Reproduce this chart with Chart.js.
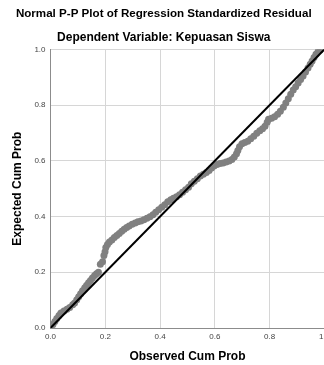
<!DOCTYPE html>
<html>
<head>
<meta charset="utf-8">
<script src="https://cdn.jsdelivr.net/npm/chart.js@4/dist/chart.umd.min.js"></script>
<style>
  html, body { margin: 0; padding: 0; background: #fff; overflow: hidden; }
  #wrap { width: 334px; height: 365px; }
</style>
</head>
<body>
<div id="wrap"><canvas id="pp"></canvas></div>
<script>
const chartTitle = "Normal P-P Plot of Regression Standardized Residual";
const chartSubtitle = "Dependent Variable: Kepuasan Siswa";
const xTitle = "Observed Cum Prob";
const yTitle = "Expected Cum Prob";
const tickValues = [0, 0.2, 0.4, 0.6, 0.8, 1.0];

// observed cumulative probability (x) and expected cumulative probability (y)
const observed = [
  0.002, 0.009, 0.016, 0.023, 0.031, 0.038, 0.049, 0.060, 0.070, 0.081,
  0.088, 0.096, 0.103, 0.110, 0.117, 0.125, 0.132, 0.139, 0.146, 0.153,
  0.161, 0.168, 0.175, 0.182, 0.190, 0.195, 0.199, 0.202, 0.208, 0.215,
  0.224, 0.233, 0.242, 0.251, 0.260, 0.269, 0.278, 0.287, 0.298, 0.309,
  0.319, 0.330, 0.341, 0.352, 0.363, 0.374, 0.384, 0.395, 0.406, 0.417,
  0.428, 0.439, 0.449, 0.460, 0.471, 0.482, 0.493, 0.504, 0.514, 0.525,
  0.536, 0.547, 0.558, 0.569, 0.579, 0.588, 0.597, 0.608, 0.619, 0.630,
  0.641, 0.652, 0.662, 0.671, 0.679, 0.684, 0.690, 0.699, 0.709, 0.720,
  0.731, 0.742, 0.753, 0.764, 0.774, 0.783, 0.791, 0.796, 0.807, 0.818,
  0.829, 0.839, 0.850, 0.859, 0.868, 0.877, 0.886, 0.895, 0.904, 0.913,
  0.922, 0.931, 0.940, 0.948, 0.955, 0.962, 0.969, 0.977, 0.984
];
const expected = [
  0.004, 0.013, 0.023, 0.034, 0.045, 0.054, 0.061, 0.067, 0.074, 0.083,
  0.090, 0.101, 0.112, 0.123, 0.134, 0.144, 0.153, 0.162, 0.170, 0.179,
  0.188, 0.195, 0.200, 0.229, 0.238, 0.260, 0.274, 0.289, 0.300, 0.309,
  0.316, 0.325, 0.332, 0.339, 0.347, 0.354, 0.361, 0.366, 0.372, 0.377,
  0.381, 0.384, 0.388, 0.394, 0.399, 0.406, 0.415, 0.424, 0.433, 0.442,
  0.453, 0.460, 0.466, 0.471, 0.478, 0.487, 0.496, 0.505, 0.518, 0.527,
  0.536, 0.545, 0.552, 0.558, 0.565, 0.574, 0.581, 0.587, 0.590, 0.592,
  0.596, 0.599, 0.605, 0.614, 0.625, 0.637, 0.650, 0.661, 0.666, 0.670,
  0.679, 0.688, 0.699, 0.708, 0.715, 0.724, 0.738, 0.749, 0.753, 0.758,
  0.767, 0.778, 0.792, 0.807, 0.823, 0.839, 0.854, 0.866, 0.879, 0.892,
  0.904, 0.919, 0.933, 0.946, 0.958, 0.971, 0.982, 0.993, 0.998
];
const refLine = [0, 1];

const FONT = "'Liberation Sans', Arial, sans-serif";

const points = observed.map((x, i) => ({ x, y: expected[i] }));

new Chart(document.getElementById("pp").getContext("2d"), {
  type: "scatter",
  data: {
    datasets: [
      {
        type: "line",
        data: refLine.map(v => ({ x: v, y: v })),
        borderColor: "#000",
        borderWidth: 2,
        pointRadius: 0,
        order: 0
      },
      {
        data: points,
        backgroundColor: "#808080",
        borderWidth: 0,
        pointRadius: 3.5,
        pointHoverRadius: 3.5,
        order: 1
      }
    ]
  },
  options: {
    responsive: true,
    maintainAspectRatio: false,
    animation: false,
    events: [],
    layout: { padding: { left: 0, right: 6.5, top: 0, bottom: 1 } },
    plugins: {
      legend: { display: false },
      tooltip: { enabled: false },
      title: {
        display: true,
        text: chartTitle,
        color: "#000",
        font: { family: FONT, size: 11.6, weight: "bold" },
        padding: { top: 7, bottom: 6 }
      },
      subtitle: {
        display: true,
        text: chartSubtitle,
        color: "#000",
        font: { family: FONT, size: 12, weight: "bold" },
        padding: { top: 4, bottom: 4 }
      }
    },
    scales: {
      x: {
        type: "linear",
        min: 0,
        max: 1,
        afterBuildTicks: s => { s.ticks = tickValues.map(v => ({ value: v })); },
        ticks: {
          color: "#444",
          font: { family: FONT, size: 8 },
          padding: 4,
          maxRotation: 0,
          callback: v => v.toFixed(1)
        },
        grid: { color: "#d6d6d6", drawTicks: false },
        border: { color: "#8c8c8c" },
        title: {
          display: true,
          text: xTitle,
          color: "#000",
          font: { family: FONT, size: 12, weight: "bold" },
          padding: { top: 4, bottom: 0 }
        }
      },
      y: {
        type: "linear",
        min: 0,
        max: 1,
        afterBuildTicks: s => { s.ticks = tickValues.map(v => ({ value: v })); },
        afterFit: s => { s.width = 50.5; },
        ticks: {
          color: "#444",
          font: { family: FONT, size: 8 },
          padding: 5,
          callback: v => v.toFixed(1)
        },
        grid: { color: "#d6d6d6", drawTicks: false },
        border: { color: "#8c8c8c" },
        title: {
          display: true,
          text: yTitle,
          color: "#000",
          font: { family: FONT, size: 12, weight: "bold" },
          padding: { top: 10, bottom: 0 }
        }
      }
    }
  }
});
</script>
</body>
</html>
